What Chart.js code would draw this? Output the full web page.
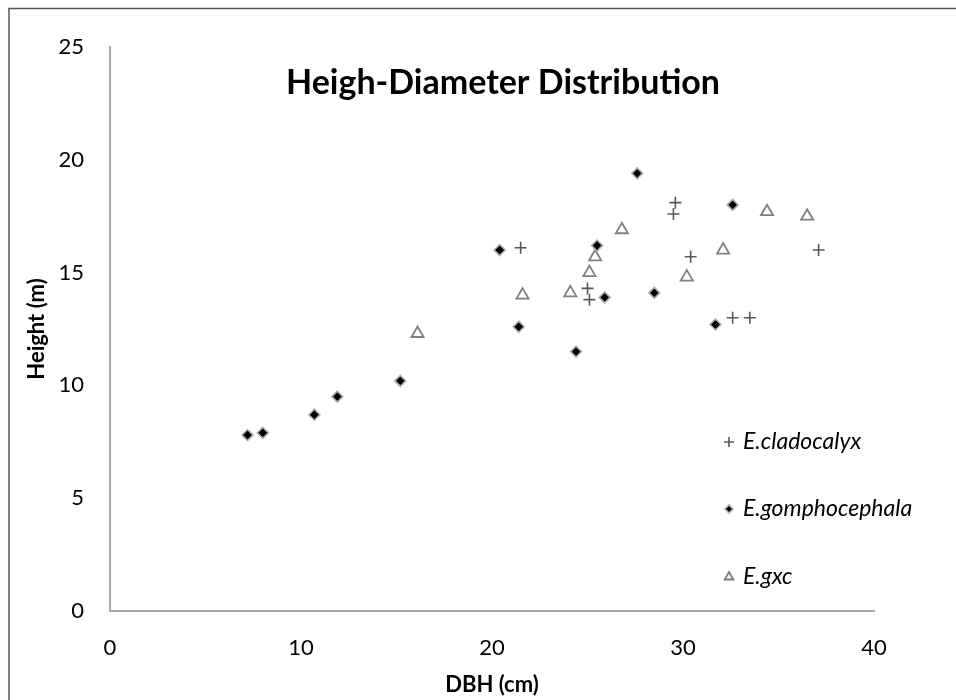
<!DOCTYPE html>
<html>
<head>
<meta charset="utf-8">
<script src="https://cdn.jsdelivr.net/npm/chart.js@4/dist/chart.umd.min.js"></script>
<style>
html,body{margin:0;padding:0;background:#fff;}
#wrap{width:956px;height:700px;}
</style>
</head>
<body>
<div id="wrap"><canvas id="c" width="956" height="700"></canvas></div>
<script>
const titleText = "Heigh-Diameter Distribution";
const xTitle = "DBH (cm)";
const yTitle = "Height (m)";
const seriesNames = ["E.cladocalyx", "E.gomphocephala", "E.gxc"];

const cladoX = [29.6, 29.5, 21.5, 30.4, 37.1, 25.0, 25.1, 32.6, 33.5];
const cladoY = [18.1, 17.6, 16.1, 15.7, 16.0, 14.3, 13.8, 13.0, 13.0];

const gomphoX = [7.2, 8.0, 10.7, 11.9, 15.2, 20.4, 21.4, 24.4, 25.5, 25.9, 27.6, 28.5, 31.7, 32.6];
const gomphoY = [7.8, 7.9, 8.7, 9.5, 10.2, 16.0, 12.6, 11.5, 16.2, 13.9, 19.4, 14.1, 12.7, 18.0];

const gxcX = [16.1, 21.6, 24.1, 25.1, 25.4, 26.8, 30.2, 32.1, 34.4, 36.5];
const gxcY = [12.3, 14.0, 14.1, 15.0, 15.7, 16.9, 14.8, 16.0, 17.7, 17.5];

const xTicks = [0, 10, 20, 30, 40];
const yTicks = [0, 5, 10, 15, 20, 25];

const FONT = "Lato, 'Open Sans', sans-serif";

function pts(xs, ys){ return xs.map((x,i)=>({x:x, y:ys[i]})); }

const datasets = [
  {label: seriesNames[0], data: pts(cladoX, cladoY), pointStyle:'cross', pointRadius:6, borderColor:'#595959', backgroundColor:'#595959', pointBorderWidth:1.6},
  {label: seriesNames[1], data: pts(gomphoX, gomphoY), pointStyle:'rectRot', pointRadius:5.5, borderColor:'#b0b0b0', backgroundColor:'#000000', pointBorderWidth:1.6},
  {label: seriesNames[2], data: pts(gxcX, gxcY), pointStyle:'triangle', pointRadius:7, borderColor:'#7f7f7f', backgroundColor:'#ffffff', pointBorderWidth:1.8}
];

const decor = {
  id:'decor',
  beforeDraw(chart){
    const ctx = chart.ctx;
    ctx.save();
    ctx.fillStyle = '#fff';
    ctx.fillRect(0,0,chart.width,chart.height);
    ctx.strokeStyle = '#555';
    ctx.lineWidth = 1.5;
    ctx.strokeRect(9, 8.5, 960, 700);
    ctx.restore();
  },
  afterDraw(chart){
    const ctx = chart.ctx;
    ctx.save();
    ctx.fillStyle = '#000';
    ctx.font = "bold 34px " + FONT;
    ctx.textAlign = 'center';
    ctx.textBaseline = 'middle';
    ctx.fillText(titleText, 503, 83);
    // legend
    ctx.font = "italic 23px " + FONT;
    ctx.textAlign = 'left';
    const ys = [442, 509, 577];
    chart.data.datasets.forEach((ds, i) => {
      const opts = {pointStyle: ds.pointStyle, radius: ds.pointStyle==='triangle'?5:(ds.pointStyle==='rectRot'?4:5), borderWidth: ds.pointBorderWidth, rotation:0};
      ctx.strokeStyle = ds.borderColor;
      ctx.fillStyle = ds.backgroundColor;
      ctx.lineWidth = ds.pointBorderWidth;
      Chart.helpers.drawPoint(ctx, opts, 729, ys[i]);
      ctx.fillStyle = '#000';
      ctx.fillText(ds.label, 743, ys[i]);
    });
    ctx.restore();
  }
};

new Chart(document.getElementById('c'), {
  type: 'scatter',
  data: {datasets: datasets},
  options: {
    responsive:false,
    animation:false,
    layout:{padding:{top:47, right:82, left:0, bottom:0}},
    plugins:{legend:{display:false}, title:{display:false}, tooltip:{enabled:false}},
    scales:{
      x:{
        type:'linear', min:0, max:40,
        afterBuildTicks(s){ s.ticks = xTicks.map(v=>({value:v})); },
        afterFit(s){ s.height = 89; },
        grid:{display:false, drawTicks:false},
        border:{display:true, color:'#a6a6a6', width:2},
        ticks:{padding:24, color:'#000', font:{family:FONT, size:22}, maxRotation:0},
        title:{display:true, text:xTitle, color:'#000', font:{family:FONT, size:22, weight:'bold'}, padding:{top:0, bottom:2}}
      },
      y:{
        type:'linear', min:0, max:25,
        afterBuildTicks(s){ s.ticks = yTicks.map(v=>({value:v})); },
        afterFit(s){ s.width = 110; },
        grid:{display:false, drawTicks:false},
        border:{display:true, color:'#a6a6a6', width:2},
        ticks:{padding:26, color:'#000', font:{family:FONT, size:22}},
        title:{display:true, text:yTitle, color:'#000', font:{family:FONT, size:22, weight:'bold'}, padding:{top:24, bottom:0}}
      }
    }
  },
  plugins:[decor]
});
</script>
</body>
</html>
